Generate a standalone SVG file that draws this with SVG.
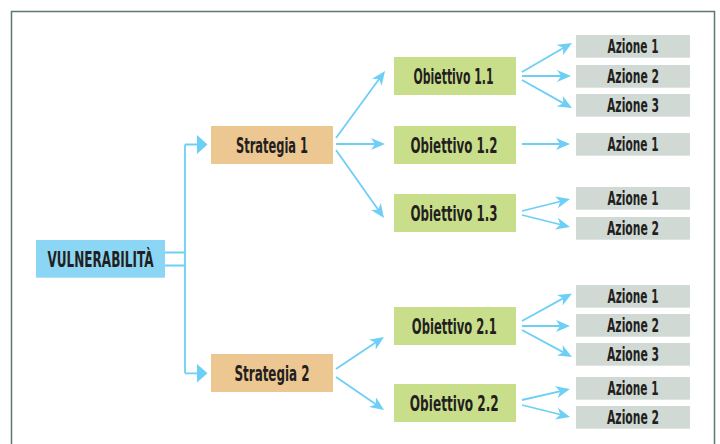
<svg xmlns="http://www.w3.org/2000/svg" width="720" height="444" viewBox="0 0 720 444">
<defs>
<style>
.t{font-family:"Liberation Sans Narrow","DejaVu Sans Condensed","Liberation Sans",sans-serif;font-weight:bold;fill:#231f20;text-anchor:middle}
.v{fill:#8bd6f5}
.s{fill:#ecc791}
.o{fill:#c9de8a}
.a{fill:#d0d9d3}
.c{stroke:#6dcff6;stroke-width:1.8;fill:none}
.h{fill:#6dcff6}
</style>
<marker id="ar" viewBox="0 0 14 12" refX="8" refY="6" markerWidth="14" markerHeight="12" markerUnits="userSpaceOnUse" orient="auto">
<path d="M0,0 L14,6 L0,12 L4,6 Z" fill="#6dcff6"/>
</marker>
</defs>
<rect width="720" height="444" fill="#ffffff"/>
<rect x="11.5" y="11.5" width="703" height="450" fill="none" stroke="#5e7a68" stroke-width="1.5"/>

<g id="connectors">
<path class="c" d="M165,252.5 H185 M165,265.5 H185 M185,144.5 V373.3 M185,144.5 H198 M185,373.3 H198"/>
<polygon class="h" points="197,135 207.5,144.5 197,154"/>
<polygon class="h" points="197,364 207.5,373.3 197,382.5"/>
<g class="c" marker-end="url(#ar)">
<line x1="336" y1="138" x2="381.5" y2="75.8"/>
<line x1="336" y1="144" x2="379" y2="144"/>
<line x1="336" y1="150" x2="380.5" y2="213.1"/>
<line x1="336" y1="369" x2="379" y2="340.3"/>
<line x1="336" y1="377" x2="379.1" y2="406.6"/>
<line x1="522" y1="72" x2="566.8" y2="46"/>
<line x1="522" y1="76" x2="565" y2="76"/>
<line x1="522" y1="80" x2="566.8" y2="105.1"/>
<line x1="522" y1="144" x2="564" y2="144"/>
<line x1="522" y1="211" x2="564.2" y2="200.5"/>
<line x1="522" y1="215" x2="564.2" y2="225.5"/>
<line x1="522" y1="321" x2="566.7" y2="296.4"/>
<line x1="522" y1="326" x2="564" y2="326"/>
<line x1="522" y1="330" x2="566.7" y2="354.1"/>
<line x1="522" y1="400" x2="564.1" y2="390.3"/>
<line x1="522" y1="405" x2="564.2" y2="415.5"/>
</g>
</g>

<g id="vulnerabilita"><rect class="v" x="36" y="240" width="129" height="37.7"/><text class="t" x="100.5" y="267" font-size="21" textLength="106" lengthAdjust="spacingAndGlyphs">VULNERABILITÀ</text></g>

<g id="strategia1"><rect class="s" x="211" y="126" width="122" height="38"/><text class="t" x="272" y="153" font-size="22" textLength="72" lengthAdjust="spacingAndGlyphs">Strategia 1</text></g>
<g id="strategia2"><rect class="s" x="211" y="354" width="122" height="38"/><text class="t" x="272" y="381" font-size="22" textLength="75" lengthAdjust="spacingAndGlyphs">Strategia 2</text></g>

<g id="obiettivo11"><rect class="o" x="394" y="57" width="122" height="38"/><text class="t" x="453.5" y="84" font-size="22" textLength="80" lengthAdjust="spacingAndGlyphs">Obiettivo 1.1</text></g>
<g id="obiettivo12"><rect class="o" x="394" y="126" width="122" height="38"/><text class="t" x="454" y="153" font-size="22" textLength="87" lengthAdjust="spacingAndGlyphs">Obiettivo 1.2</text></g>
<g id="obiettivo13"><rect class="o" x="394" y="194" width="122" height="38"/><text class="t" x="454" y="221" font-size="22" textLength="87" lengthAdjust="spacingAndGlyphs">Obiettivo 1.3</text></g>
<g id="obiettivo21"><rect class="o" x="394" y="307" width="122" height="38"/><text class="t" x="454.3" y="334" font-size="22" textLength="85" lengthAdjust="spacingAndGlyphs">Obiettivo 2.1</text></g>
<g id="obiettivo22"><rect class="o" x="394" y="384" width="122" height="38"/><text class="t" x="454.3" y="411" font-size="22" textLength="89" lengthAdjust="spacingAndGlyphs">Obiettivo 2.2</text></g>

<g id="azione11-1"><rect class="a" x="576" y="35" width="114" height="22.7"/><text class="t" x="633" y="53.4" font-size="20" textLength="51" lengthAdjust="spacingAndGlyphs">Azione 1</text></g>
<g id="azione11-2"><rect class="a" x="576" y="65" width="114" height="22.7"/><text class="t" x="633" y="83" font-size="20" textLength="52" lengthAdjust="spacingAndGlyphs">Azione 2</text></g>
<g id="azione11-3"><rect class="a" x="576" y="94" width="114" height="22.7"/><text class="t" x="633" y="112" font-size="20" textLength="52" lengthAdjust="spacingAndGlyphs">Azione 3</text></g>
<g id="azione12-1"><rect class="a" x="576" y="133" width="114" height="22.7"/><text class="t" x="633" y="151" font-size="20" textLength="51" lengthAdjust="spacingAndGlyphs">Azione 1</text></g>
<g id="azione13-1"><rect class="a" x="576" y="187" width="114" height="22.7"/><text class="t" x="633" y="205" font-size="20" textLength="51" lengthAdjust="spacingAndGlyphs">Azione 1</text></g>
<g id="azione13-2"><rect class="a" x="576" y="217" width="114" height="22.7"/><text class="t" x="633" y="235" font-size="20" textLength="52" lengthAdjust="spacingAndGlyphs">Azione 2</text></g>
<g id="azione21-1"><rect class="a" x="576" y="285" width="114" height="22.7"/><text class="t" x="633" y="303" font-size="20" textLength="51" lengthAdjust="spacingAndGlyphs">Azione 1</text></g>
<g id="azione21-2"><rect class="a" x="576" y="314" width="114" height="22.7"/><text class="t" x="633" y="332" font-size="20" textLength="52" lengthAdjust="spacingAndGlyphs">Azione 2</text></g>
<g id="azione21-3"><rect class="a" x="576" y="343" width="114" height="22.7"/><text class="t" x="633" y="361" font-size="20" textLength="52" lengthAdjust="spacingAndGlyphs">Azione 3</text></g>
<g id="azione22-1"><rect class="a" x="576" y="377" width="114" height="22.7"/><text class="t" x="633" y="395" font-size="20" textLength="51" lengthAdjust="spacingAndGlyphs">Azione 1</text></g>
<g id="azione22-2"><rect class="a" x="576" y="406" width="114" height="22.7"/><text class="t" x="633" y="424" font-size="20" textLength="52" lengthAdjust="spacingAndGlyphs">Azione 2</text></g>
</svg>
